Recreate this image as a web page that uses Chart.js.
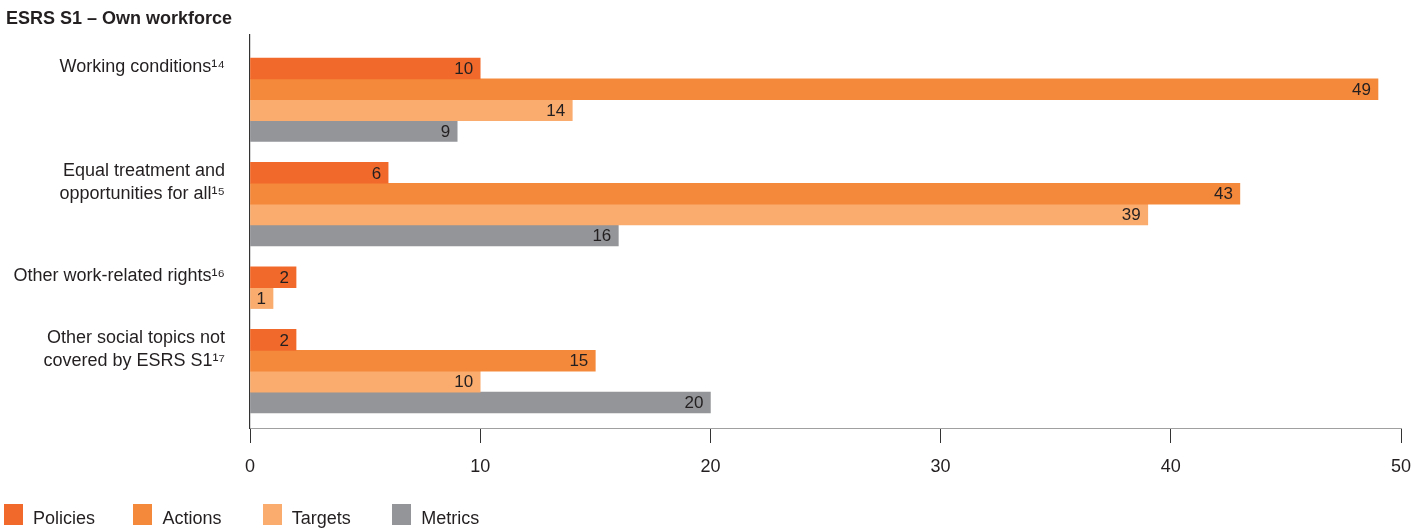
<!DOCTYPE html>
<html>
<head>
<meta charset="utf-8">
<script src="https://cdn.jsdelivr.net/npm/chart.js@4.4.1/dist/chart.umd.min.js"></script>
<style>
  html, body { margin: 0; padding: 0; background: #fff; }
  #wrap { position: relative; width: 1427px; height: 530px; overflow: hidden; font-family: "Liberation Sans", Arial, sans-serif; color: #231f20; }
  #c { position: absolute; left: 0; top: 0; }
  #title { position: absolute; left: 6px; top: 8px; font-weight: bold; font-size: 18px; line-height: 20px; white-space: nowrap; }
  #legend { position: absolute; left: 4px; top: 504px; display: flex; }
  .item { display: flex; align-items: flex-start; width: 129.4px; }
  .box { width: 19px; height: 21px; margin-right: 10px; flex: none; }
  .lbl { font-size: 18px; line-height: 21px; position: relative; top: 4px; white-space: nowrap; }
</style>
</head>
<body>
<div id="wrap">
  <canvas id="c" width="1427" height="530"></canvas>
  <div id="title">ESRS S1 – Own workforce</div>
  <div id="legend"></div>
</div>
<script>
// ---- data ----
const title = "ESRS S1 – Own workforce";
const categories = [
  ["Working conditions¹⁴"],
  ["Equal treatment and", "opportunities for all¹⁵"],
  ["Other work-related rights¹⁶"],
  ["Other social topics not", "covered by ESRS S1¹⁷"]
];
const seriesNames = ["Policies", "Actions", "Targets", "Metrics"];
const policies = [10, 6, 2, 2];
const actions  = [49, 43, null, 15];
const targets  = [14, 39, 1, 10];
const metrics  = [9, 16, null, 20];
const xMin = 0, xMax = 50, xStep = 10;
const seriesColors = ["#f26a2b", "#f5893b", "#f9ac6e", "#939598"];

// ---- build rows: one row per present bar, blank row between groups ----
const seriesValues = [policies, actions, targets, metrics];
const points = seriesValues.map(() => []);
const labelTicks = [];
let row = 0;
categories.forEach((lines, ci) => {
  const first = row;
  seriesValues.forEach((vals, si) => {
    if (vals[ci] !== null && vals[ci] !== undefined) {
      points[si].push({ x: vals[ci], y: row });
      row++;
    }
  });
  labelTicks.push({ value: first + (lines.length - 1) / 2, lines: lines });
  row++;
});
const lastRow = row - 2;
const yMin = -1.6, yMax = lastRow + 1.22;

// ---- legend (HTML) ----
const legend = document.getElementById('legend');
seriesNames.forEach((n, i) => {
  const it = document.createElement('div'); it.className = 'item';
  const b = document.createElement('div'); b.className = 'box'; b.style.background = seriesColors[i];
  const t = document.createElement('span'); t.className = 'lbl'; t.textContent = n;
  it.appendChild(b); it.appendChild(t); legend.appendChild(it);
});
document.getElementById('title').textContent = title;

const FONT = "'Liberation Sans', Arial, sans-serif";
const TEXT = "#231f20";

const valueLabels = {
  id: 'valueLabels',
  afterDatasetsDraw(chart) {
    const ctx = chart.ctx;
    ctx.save();
    ctx.font = "17px " + FONT;
    ctx.fillStyle = TEXT;
    ctx.textAlign = 'right';
    ctx.textBaseline = 'middle';
    chart.data.datasets.forEach((ds, di) => {
      const meta = chart.getDatasetMeta(di);
      meta.data.forEach((el, i) => {
        const v = ds.data[i].x;
        ctx.fillText(String(v), el.x - 7, el.y + 1);
      });
    });
    ctx.restore();
  }
};

new Chart(document.getElementById('c'), {
  type: 'bar',
  data: {
    datasets: seriesNames.map((n, i) => ({
      label: n,
      data: points[i],
      backgroundColor: seriesColors[i],
      borderWidth: 0,
      categoryPercentage: 1,
      barPercentage: 1
    }))
  },
  options: {
    indexAxis: 'y',
    responsive: false,
    devicePixelRatio: 1,
    animation: false,
    layout: { padding: { left: 8, right: 26, top: 35, bottom: 0 } },
    plugins: { legend: { display: false }, tooltip: { enabled: false }, title: { display: false } },
    scales: {
      x: {
        type: 'linear',
        stacked: true,
        min: xMin, max: xMax,
        ticks: { stepSize: xStep, color: TEXT, font: { family: FONT, size: 18 }, padding: 13, maxRotation: 0 },
        grid: { display: true, drawOnChartArea: false, drawTicks: true, tickLength: 15, color: '#333', lineWidth: 1 },
        border: { display: true, color: '#a0a0a0', width: 1 },
        afterFit: s => { s.height = 102; }
      },
      y: {
        type: 'linear',
        stacked: true,
        reverse: true,
        bounds: 'data',
        offset: false,
        grace: 0,
        min: yMin,
        max: yMax,
        z: 1,
        afterDataLimits: s => { s.min = yMin; s.max = yMax; },
        afterBuildTicks: s => { s.ticks = labelTicks.map(t => ({ value: t.value })); s.min = yMin; s.max = yMax; },
        ticks: {
          stepSize: 1,
          autoSkip: false,
          color: TEXT,
          font: { family: FONT, size: 18, lineHeight: 1.3 },
          padding: 17,
          labelOffset: -1,
          callback: (v, i) => labelTicks[i] ? labelTicks[i].lines : ''
        },
        grid: { display: false },
        border: { display: true, color: '#333', width: 1.2 },
        afterFit: s => { s.width = 242; s.paddingTop = 0; s.paddingBottom = 0; }
      }
    }
  },
  plugins: [valueLabels]
});
</script>
</body>
</html>
